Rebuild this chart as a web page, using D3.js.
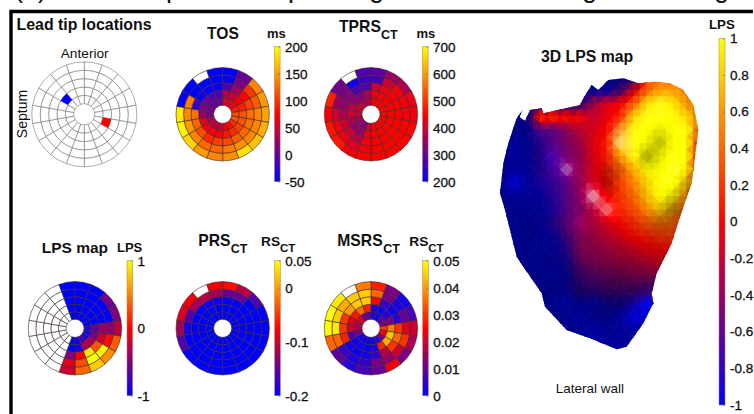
<!DOCTYPE html>
<html>
<head>
<meta charset="utf-8">
<script src="https://cdn.jsdelivr.net/npm/d3@7"></script>
<style>
  html, body { margin: 0; padding: 0; background: #fff; }
  svg { display: block; }
  text { font-family: "Liberation Sans", Arial, sans-serif; fill: #111; }
  .ttl { font-weight: bold; }
  .tick text { font-size: 13.5px; stroke: #111; stroke-width: .3px; }
</style>
</head>
<body>
<svg id="fig" width="754" height="414"></svg>
<script>
// ---- bullseye values: 5 rings (inner to outer), 18 sectors clockwise from 12 o'clock, null = no data
const _ = null;
const tosValues = [
  [60,60,70,90,110,115,95,80,70,50,40,45,30,10,5,0,0,0],
  [40,50,70,90,115,115,105,95,85,75,70,65,60,25,10,0,-10,-15],
  [-10,30,75,105,130,130,125,120,110,105,95,110,125,130,-25,-40,-45,-45],
  [-45,10,100,120,140,140,140,145,135,125,125,140,150,140,135,-50,-50,-50],
  [-50,0,140,150,155,160,170,185,145,140,150,180,195,190,-50,-50,_,-50]
];
const tprsValues = [
  [440,445,450,450,450,450,450,450,450,400,330,340,360,400,400,390,370,380],
  [430,440,445,450,450,450,450,450,450,430,350,340,370,400,390,340,330,370],
  [400,430,440,445,450,450,450,450,450,440,380,400,400,370,340,330,280,280],
  [270,400,440,440,440,450,450,450,450,440,420,430,430,400,350,320,220,260],
  [290,350,370,430,440,450,450,450,450,450,440,470,470,440,480,310,_,280]
];
const lpsValues = [
  [-1,-1,-1,-1,-.85,-.9,-.85,-.7,-.95,-1,_,_,_,_,_,_,_,-1],
  [-1,-1,-1,-1,-.6,-.55,-.3,-.3,-.9,-1,_,_,_,_,_,_,_,-1],
  [-1,-1,-1,-1,-.4,-.2,.35,.9,0,-.5,_,_,_,_,_,_,_,-1],
  [-1,-1,-1,-1,-.45,.05,.95,1,.3,-.1,_,_,_,_,_,_,_,-1],
  [-1,-1,-.55,-.5,-.25,.35,.55,.8,.4,-.2,_,_,_,_,_,_,_,-1]
];
const prsValues = [
  [-.2,-.2,-.2,-.2,-.2,-.2,-.2,-.2,-.2,-.2,-.2,-.2,-.2,-.2,-.2,-.2,-.2,-.2],
  [-.2,-.2,-.2,-.2,-.2,-.2,-.2,-.2,-.2,-.2,-.2,-.2,-.2,-.2,-.2,-.2,-.2,-.2],
  [-.2,-.2,-.2,-.2,-.2,-.2,-.2,-.2,-.2,-.2,-.2,-.2,-.2,-.2,-.2,-.2,-.19,-.19],
  [-.15,-.15,-.2,-.2,-.2,-.2,-.2,-.2,-.2,-.2,-.2,-.2,-.2,-.19,-.16,-.12,-.11,-.12],
  [-.07,-.11,-.16,-.2,-.2,-.2,-.2,-.2,-.2,-.2,-.2,-.2,-.16,-.12,-.09,-.08,_,-.08]
];
const msrsValues = [
  [.002,.001,.008,.012,.03,.025,.012,.005,.002,.001,.001,.002,.012,.017,.018,.022,.012,.008],
  [.003,.002,.004,.012,.037,.045,.042,.028,.003,.001,.001,.002,.008,.02,.022,.027,.035,.028],
  [.025,.005,.002,.004,.03,.035,.03,.018,.005,.002,.001,.002,.028,.03,.03,.04,.045,.045],
  [.035,.012,.003,.01,.022,.03,.02,.015,.012,.005,.003,.006,.035,.048,.045,.042,.045,.045],
  [.028,.012,.002,.007,.02,.017,.012,.024,.01,.007,.004,.009,.035,.05,.05,.048,_,.037]
];
const leadTipRing = [1, 1];
const leadTipSector = [15, 5];
const leadTipValue = [-1, 0];

// ---- colour bar ranges and tick labels
const tosDomain = [-50, 200],  tosTicks = [-50, 0, 50, 100, 150, 200];
const tprsDomain = [200, 700], tprsTicks = [200, 300, 400, 500, 600, 700];
const lpsDomain = [-1, 1],     lpsTicks = [-1, 0, 1];
const prsDomain = [-.2, .05],  prsTicks = [-.2, -.1, 0, .05];
const msrsDomain = [0, .05],   msrsTicks = [0, .01, .02, .03, .04, .05];
const lps3dTicks = [-1, -.8, -.6, -.4, -.2, 0, .2, .4, .6, .8, 1];

// ---- 3D LPS surface, sampled on a grid in picture units
const meshX = [60,100,140,180,220,260,300,340,380,420,460,500,540,580,620,660];
const meshY = [140,180,220,260,300,340,380,420,460,500,540,580,620,660,700,740,780,820,860,900,940,980];
const meshLps = [
  [-1,-1,-1,-1,-1,-1,-1,-1,-1,-1,-1,.3,.4,.4,.4,.4],
  [-1,-1,-1,-1,-1,-1,-1,-1,-1,-.7,-.1,.35,.6,.6,.5,.4],
  [-1,-1,-1,-1,-1,-1,-.8,-.3,-.1,0,.3,.85,1,.9,.6,.4],
  [-1,-1,-1,.3,.25,.15,.05,-.2,-.05,.1,.8,1,1,1,.85,.5],
  [-1,-1,-1,-.6,-.6,-.4,-.2,-.1,0,.5,1,1,1,1,1,.4],
  [-1,-1,-1,-.8,-.6,-.45,-.3,-.05,.1,.75,1,1,1,1,1,.2],
  [-1,-1,-1,-.8,-.7,-.5,-.35,-.1,.1,.6,.95,1,1,1,1,.1],
  [-1,-1,-1,-.85,-.7,-.5,-.35,-.1,.1,.35,.65,1,1,1,.95,0],
  [-1,-1,-1,-.85,-.75,-.6,-.35,-.15,.05,.25,.5,.85,1,1,.85,0],
  [-1,-1,-1,-1,-.8,-.6,-.4,-.2,0,.2,.4,.75,1,1,.5,0],
  [-1,-1,-1,-1,-.85,-.6,-.45,-.25,-.05,.15,.3,.5,.85,.7,.3,0],
  [-1,-1,-1,-1,-.8,-.55,-.4,-.25,-.1,.05,.15,.35,.45,.4,0,0],
  [-1,-1,-1,-1,-1,-.65,-.4,-.3,-.2,-.1,.05,.1,.2,.25,0,0],
  [-1,-1,-1,-1,-1,-.8,-.4,-.35,-.3,-.2,-.15,-.05,0,0,0,0],
  [-1,-1,-1,-1,-1,-.9,-.5,-.4,-.35,-.3,-.25,-.2,-.15,0,0,0],
  [-1,-1,-1,-1,-1,-1,-.65,-.55,-.5,-.45,-.4,-.4,-.35,0,0,0],
  [-1,-1,-1,-1,-1,-1,-.8,-.7,-.65,-.6,-.6,-.65,-.7,-1,-1,-1],
  [-1,-1,-1,-1,-1,-1,-1,-1,-.95,-.9,-.9,-1,-1,-1,-1,-1],
  [-1,-1,-1,-1,-1,-1,-1,-1,-1,-1,-1,-1,-1,-1,-1,-1],
  [-1,-1,-1,-1,-1,-1,-1,-1,-1,-1,-1,-1,-1,-1,-1,-1],
  [-1,-1,-1,-1,-1,-1,-1,-1,-1,-1,-1,-1,-1,-1,-1,-1],
  [-1,-1,-1,-1,-1,-1,-1,-1,-1,-1,-1,-1,-1,-1,-1,-1]
];
// brightness of the lit surface: 1 = full colour, below = shadow, above = white highlight
const meshLight = [
  [.5,.5,.5,.5,.5,.5,.5,.5,.5,.5,.5,1,1,1,1,1],
  [.5,.5,.5,.5,.5,.5,.5,.6,.6,.6,.85,.95,1,1,.95,.85],
  [.55,.55,.55,.55,.55,.55,.6,.85,.95,.95,1,1,1.05,1,.95,.85],
  [.55,.55,.5,.95,.95,.9,.95,.95,.95,1,1,1.05,1.05,1,1,.9],
  [.55,.55,.5,.85,.85,.9,.9,.9,.95,1.1,1.05,1,.9,1,1.05,.85],
  [.55,.6,.55,.65,.85,.85,.85,.9,.95,1.3,1.05,.95,.7,1,1,.85],
  [.55,.6,.55,.6,1.05,.9,.85,.9,.95,.95,1.1,.6,.9,1.05,1,.8],
  [.5,.6,.6,.6,.85,1.3,.9,.9,.75,.85,1,.95,.95,1.1,1,.7],
  [.5,.85,.6,.7,.75,.85,.9,1,.65,.95,1,.95,1.05,1.05,.75,.7],
  [.5,.6,.55,.6,.7,.85,.9,1.45,.9,.95,.95,.95,1,.8,.8,.7],
  [.5,.55,.55,.55,.7,.8,.85,.95,1.35,.95,.95,1,.85,.6,.75,.8],
  [.5,.55,.5,.55,.6,.75,1.05,.85,.9,.9,.9,.85,.7,.75,.8,.7],
  [.5,.55,.5,.55,.55,.65,.8,.8,.85,.85,.85,.85,.8,.8,.7,.7],
  [.5,.5,.55,.5,.55,.6,.75,.75,.8,.75,.8,.8,.8,.75,.7,.7],
  [.5,.5,.5,.55,.5,.55,.65,.7,.7,.7,.7,.75,.75,.7,.7,.7],
  [.5,.5,.5,.5,.55,.5,.55,.6,.6,.6,.65,.65,.7,.6,.6,.6],
  [.5,.5,.5,.5,.5,.5,.45,.5,.5,.5,.5,.55,.6,.6,.6,.6],
  [.5,.5,.5,.5,.55,.6,.5,.55,.45,.45,.6,1,.8,.6,.6,.6],
  [.5,.5,.5,.5,.5,.55,.6,.5,.5,.55,.9,.8,.6,.6,.6,.6],
  [.5,.5,.5,.5,.5,.5,.55,.65,.55,.6,.6,.6,.6,.6,.6,.6],
  [.5,.5,.5,.5,.5,.5,.6,.6,.6,.6,.6,.6,.6,.6,.6,.6],
  [.5,.5,.5,.5,.5,.5,.6,.6,.6,.6,.6,.6,.6,.6,.6,.6]
];
const outlineX = [110,128,118,135,150,185,190,300,310,335,355,385,430,475,525,570,610,640,655,650,635,600,575,530,515,520,490,440,410,330,260,195,185,130,110,90,75,60,70,85];
const outlineY = [265,240,262,272,240,235,250,225,205,165,180,150,145,160,155,160,180,225,300,340,460,560,640,730,790,820,880,950,958,925,900,830,790,710,680,600,540,490,400,340];

// ---- clipped headline of the page above the frame
const headGlyphs = ["(a)", "p", "p", "g", "g", "g"];
const headGlyphX = [14, 166, 288, 369, 582, 714];

const svg = d3.select("#fig");
const defs = svg.append("defs");

// blue -> red -> yellow
function colormap(domain) {
  const mid = (domain[0] + domain[1]) / 2;
  return d3.scaleLinear().domain([domain[0], mid, domain[1]]).range(["#0000ff", "#ff0000", "#ffff00"]);
}

function label(x, y, str, size, bold, anchor) {
  return svg.append("text").attr("x", x).attr("y", y).attr("font-size", size)
    .attr("class", bold ? "ttl" : null).attr("text-anchor", anchor || "start").text(str);
}

function bullseye(cx, cy, R, hole, rows, domain, stroke) {
  const color = domain ? colormap(domain) : null;
  const radius = d3.scaleLinear().domain([0, 5]).range([hole, R]);
  const angle = d3.scaleLinear().domain([0, 18]).range([0, 2 * Math.PI]);
  const arc = d3.arc().innerRadius(d => radius(d.ring)).outerRadius(d => radius(d.ring + 1))
    .startAngle(d => angle(d.sector)).endAngle(d => angle(d.sector + 1));
  const cells = [];
  rows.forEach((row, ring) => row.forEach((v, sector) => cells.push({ ring, sector, v })));
  svg.append("g").attr("transform", `translate(${cx},${cy})`)
    .selectAll("path").data(cells).join("path")
    .attr("d", arc)
    .attr("fill", d => d.v === null ? "#fff" : color(d.v))
    .attr("stroke", stroke).attr("stroke-width", .6);
}

let barCount = 0;
function colorbar(x, y0, y1, w, domain, ticks) {
  const id = "bar" + (barCount++);
  const color = colormap(domain);
  const grad = defs.append("linearGradient").attr("id", id).attr("x1", 0).attr("y1", 1).attr("x2", 0).attr("y2", 0);
  d3.range(0, 1.01, .25).forEach(t => {
    const v = domain[0] + t * (domain[1] - domain[0]);
    grad.append("stop").attr("offset", t).attr("stop-color", color(v));
  });
  svg.append("rect").attr("x", x).attr("y", y0).attr("width", w).attr("height", y1 - y0)
    .attr("fill", `url(#${id})`).attr("stroke", "#8a8a60").attr("stroke-width", .5);
  const scale = d3.scaleLinear().domain(domain).range([y1, y0]);
  const axis = d3.axisRight(scale).tickValues(ticks).tickSize(-2).tickPadding(5).tickFormat(v => String(v));
  const g = svg.append("g").attr("transform", `translate(${x + w},0)`).call(axis);
  g.select(".domain").remove();
  g.selectAll(".tick line").attr("stroke", "#555").attr("stroke-width", .5);
  g.selectAll(".tick text").attr("fill", null);
  g.attr("font-family", null).attr("font-size", null);
}

// ---- frame and headline
const frame = d3.path();
frame.moveTo(11, 414); frame.lineTo(11, 11.5); frame.lineTo(753, 11.5);
svg.append("path").attr("d", frame.toString()).attr("fill", "none").attr("stroke", "#000").attr("stroke-width", 3.4);
svg.selectAll("text.head").data(headGlyphs).join("text").attr("class", "head")
  .attr("x", (d, i) => headGlyphX[i]).attr("y", -2.6).attr("font-size", 27).text(d => d);

// ---- lead tip map
const discR = 46.7, discHole = 9, topY = 114.3, botY = 328.3;
const leadRows = d3.range(5).map(() => d3.range(18).map(() => null));
bullseye(84.3, topY, 52.5, 10.5, leadRows, null, "#777");
const leadColor = colormap(lpsDomain);
const leadRadius = d3.scaleLinear().domain([0, 5]).range([10.5, 52.5]);
const leadAngle = d3.scaleLinear().domain([0, 18]).range([0, 2 * Math.PI]);
svg.append("g").attr("transform", `translate(84.3,${topY})`)
  .selectAll("path").data(leadTipRing).join("path")
  .attr("d", (d, i) => d3.arc()({ innerRadius: leadRadius(d), outerRadius: leadRadius(d + 1), startAngle: leadAngle(leadTipSector[i]), endAngle: leadAngle(leadTipSector[i] + 1) }))
  .attr("fill", (d, i) => leadColor(leadTipValue[i]));
label(16.5, 30, "Lead tip locations", 15.9, true);
label(84.7, 58, "Anterior", 13.7, false, "middle");
svg.append("text").attr("transform", "translate(27,114) rotate(-90)").attr("text-anchor", "middle").attr("font-size", 14).text("Septum");

// ---- bullseyes
const line = "#3a2a2a";
bullseye(222.7, topY, discR, discHole, tosValues, tosDomain, line);
colorbar(274.5, 46.7, 181.7, 5.6, tosDomain, tosTicks);
label(223, 39, "TOS", 15.6, true, "middle");
label(267, 37.7, "ms", 13, true);

bullseye(371, topY, discR, discHole, tprsValues, tprsDomain, line);
colorbar(422.5, 46.7, 181.7, 5.6, tprsDomain, tprsTicks);
label(339, 31.7, "TPRS", 15.7, true);
label(381, 39, "CT", 12.5, true);
label(416.5, 38, "ms", 13, true);

bullseye(75, botY, discR, discHole, lpsValues, lpsDomain, line);
colorbar(127, 260.7, 395.7, 5.6, lpsDomain, lpsTicks);
label(41.7, 252.7, "LPS map", 15.5, true);
label(117, 251.7, "LPS", 13, true);

bullseye(222.7, botY, discR, discHole, prsValues, prsDomain, line);
colorbar(274.7, 260.7, 395.7, 5.6, prsDomain, prsTicks);
label(198.3, 245.7, "PRS", 15.7, true);
label(230.7, 253, "CT", 12.5, true);
label(261, 245.7, "RS", 13.7, true);
label(280, 251.7, "CT", 11.5, true);

bullseye(371, botY, discR, discHole, msrsValues, msrsDomain, line);
colorbar(422.7, 260.7, 395.7, 5.6, msrsDomain, msrsTicks);
label(337.3, 245.7, "MSRS", 15.7, true);
label(383.3, 253, "CT", 12.5, true);
label(409.3, 245.7, "RS", 13.7, true);
label(428.3, 251.7, "CT", 11.5, true);

// ---- 3D surface
const sx = d3.scaleLinear().domain([0, 274 * 3]).range([480, 754]);
const sy = d3.scaleLinear().domain([0, 384 * 3]).range([30, 414]);
const surfaceColor = colormap(lpsDomain);
function lit(v, l) {
  const c = d3.rgb(surfaceColor(v));
  if (l <= 1) return d3.rgb(c.r * l, c.g * l, c.b * l).formatRgb();
  return d3.interpolateRgb(c, "#ffffff")(Math.min(1, (l - 1) * 1.7));
}
const outline = d3.line().x(d => sx(outlineX[d])).y(d => sy(outlineY[d])).curve(d3.curveLinearClosed);
defs.append("clipPath").attr("id", "heart").append("path").attr("d", outline(d3.range(outlineX.length)));

// shade a grid value at a fractional grid position, the way a renderer shades a lit mesh
function sample(grid, u, v) {
  const i = Math.min(Math.floor(u), meshX.length - 2), j = Math.min(Math.floor(v), meshY.length - 2);
  const a = u - i, b = v - j;
  return d3.interpolate(
    d3.interpolate(grid[j][i], grid[j][i + 1])(a),
    d3.interpolate(grid[j + 1][i], grid[j + 1][i + 1])(a))(b);
}
const ux = d3.scaleLinear().domain(d3.range(meshX.length)).range(meshX);
const uy = d3.scaleLinear().domain(d3.range(meshY.length)).range(meshY);
const sub = 2, facets = [];
for (let j = 0; j < (meshY.length - 1) * sub; j++) {
  for (let i = 0; i < (meshX.length - 1) * sub; i++) {
    const p = [[i, j], [i + 1, j], [i + 1, j + 1], [i, j + 1]].map(q => [q[0] / sub, q[1] / sub]);
    // flip the diagonal like a chequerboard so the facets look jagged
    const tris = (i + j) % 2 ? [[p[0], p[1], p[2]], [p[0], p[2], p[3]]] : [[p[0], p[1], p[3]], [p[1], p[2], p[3]]];
    tris.forEach(t => facets.push(t));
  }
}
svg.append("g").attr("clip-path", "url(#heart)")
  .selectAll("path").data(facets).join("path")
  .attr("d", t => "M" + t.map(q => [sx(ux(q[0])), sy(uy(q[1]))].join(",")).join("L") + "Z")
  .each(function (t) {
    const v = d3.mean(t, q => sample(meshLps, q[0], q[1]));
    const l = d3.mean(t, q => sample(meshLight, q[0], q[1]));
    const fill = lit(v, l);
    d3.select(this).attr("fill", fill).attr("stroke", fill).attr("stroke-width", .9);
  });
colorbar(719, 38.3, 405, 6, lpsDomain, lps3dTicks);
label(541, 62.3, "3D LPS map", 15.8, true);
label(555.7, 392.7, "Lateral wall", 13.5);
label(709, 29, "LPS", 13.3, true);
</script>
</body>
</html>
